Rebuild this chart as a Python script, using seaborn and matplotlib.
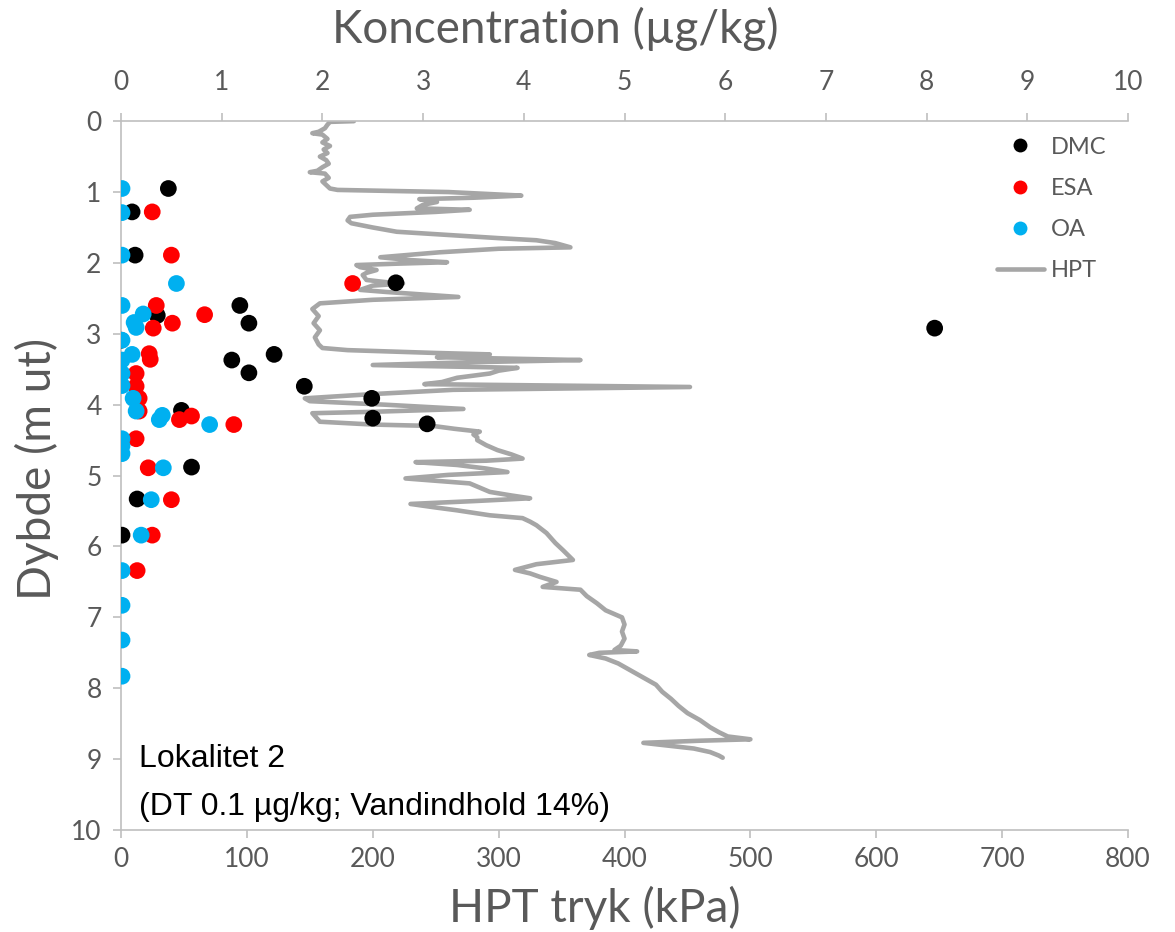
import matplotlib
matplotlib.use("Agg")
import matplotlib.pyplot as plt
from matplotlib.lines import Line2D
import seaborn as sns
import pandas as pd

# --- Sample concentrations (µg/kg) at depth (m) ---
dmc_depth = [0.95, 1.28, 1.89, 2.28, 2.60, 2.74, 2.85, 2.92, 3.09, 3.29, 3.37, 3.55, 3.74,
             3.91, 4.08, 4.19, 4.27, 4.88, 5.33, 5.84]
dmc_conc = [0.47, 0.11, 0.14, 2.73, 1.18, 0.36, 1.27, 8.08, 0.0, 1.52, 1.10, 1.27, 1.82,
            2.49, 0.60, 2.50, 3.04, 0.70, 0.16, 0.01]

esa_depth = [1.28, 1.89, 2.29, 2.60, 2.73, 2.85, 2.92, 3.28, 3.36, 3.56, 3.74, 3.91, 4.09,
             4.16, 4.21, 4.28, 4.48, 4.89, 5.34, 5.84, 6.34]
esa_conc = [0.31, 0.50, 2.30, 0.35, 0.83, 0.51, 0.32, 0.28, 0.29, 0.15, 0.15, 0.18, 0.18,
            0.70, 0.58, 1.12, 0.15, 0.27, 0.50, 0.31, 0.16]

oa_depth = [0.95, 1.29, 1.89, 2.29, 2.60, 2.72, 2.84, 2.91, 3.09, 3.29, 3.37, 3.56, 3.73,
            3.91, 4.09, 4.15, 4.21, 4.28, 4.48, 4.58, 4.69, 4.89, 5.34, 5.84, 6.34, 6.83,
            7.32, 7.83]
oa_conc = [0.01, 0.01, 0.01, 0.55, 0.01, 0.22, 0.13, 0.15, 0.01, 0.11, 0.01, 0.01, 0.01,
           0.12, 0.15, 0.41, 0.38, 0.88, 0.01, 0.01, 0.01, 0.42, 0.30, 0.20, 0.01, 0.01,
           0.01, 0.01]

# --- HPT pressure log (kPa) against depth (m) ---
hpt_depth = [0.00, 0.01, 0.05, 0.10, 0.15, 0.17, 0.19, 0.25, 0.30, 0.35, 0.40, 0.45, 0.50,
             0.55, 0.60, 0.65, 0.70, 0.72, 0.74, 0.80, 0.85, 0.90, 0.95, 0.97, 1.00, 1.05,
             1.08, 1.10, 1.14, 1.18, 1.23, 1.25, 1.28, 1.32, 1.35, 1.40, 1.44, 1.50, 1.56,
             1.61, 1.65, 1.68, 1.72, 1.78, 1.80, 1.85, 1.92, 1.96, 1.99, 2.01, 2.03, 2.06,
             2.10, 2.14, 2.17, 2.24, 2.27, 2.29, 2.32, 2.38, 2.41, 2.44, 2.48, 2.52, 2.57,
             2.65, 2.75, 2.85, 2.95, 3.05, 3.15, 3.20, 3.23, 3.27, 3.29, 3.33, 3.37, 3.40,
             3.44, 3.48, 3.52, 3.56, 3.62, 3.68, 3.71, 3.75, 3.79, 3.85, 3.91, 3.95, 4.00,
             4.06, 4.10, 4.12, 4.18, 4.24, 4.28, 4.30, 4.34, 4.38, 4.42, 4.46, 4.50, 4.57,
             4.64, 4.70, 4.76, 4.79, 4.81, 4.85, 4.90, 4.95, 4.99, 5.04, 5.08, 5.11, 5.17,
             5.23, 5.28, 5.32, 5.36, 5.40, 5.45, 5.49, 5.56, 5.60, 5.65, 5.70, 5.81, 5.95,
             6.05, 6.12, 6.19, 6.25, 6.33, 6.38, 6.43, 6.50, 6.57, 6.61, 6.70, 6.80, 6.90,
             7.00, 7.10, 7.20, 7.30, 7.40, 7.46, 7.48, 7.50, 7.53, 7.58, 7.65, 7.75, 7.85,
             7.95, 8.05, 8.15, 8.25, 8.35, 8.45, 8.55, 8.62, 8.68, 8.72, 8.74, 8.77, 8.80,
             8.85, 8.90, 8.95, 8.98]
hpt_kpa = [185, 166, 164, 162, 157, 152, 160, 164, 160, 166, 161, 164, 158,
           163, 165, 160, 156, 150, 162, 165, 160, 163, 166, 172, 260, 318,
           280, 237, 251, 240, 235, 277, 250, 200, 182, 180, 183, 200, 219,
           264, 300, 330, 345, 357, 300, 253, 206, 230, 259, 220, 187, 190,
           203, 195, 192, 195, 210, 224, 200, 190, 211, 235, 268, 200, 158,
           152, 157, 153, 158, 154, 157, 160, 180, 250, 293, 251, 365, 280,
           200, 315, 300, 293, 267, 255, 241, 452, 264, 200, 146, 150, 210,
           272, 200, 152, 155, 158, 200, 248, 265, 285, 280, 283, 283, 290,
           299, 310, 319, 290, 234, 267, 290, 307, 260, 226, 255, 277, 285,
           293, 310, 325, 280, 230, 250, 267, 293, 319, 325, 330, 338, 345,
           351, 355, 359, 330, 313, 325, 333, 346, 335, 365, 370, 378, 385,
           398, 400, 398, 400, 397, 392, 410, 380, 372, 385, 395, 405, 415,
           425, 430, 437, 443, 450, 460, 468, 475, 482, 500, 460, 415, 430,
           455, 468, 475, 478]

conc_ticks = list(range(0, 11))
kpa_ticks = list(range(0, 801, 100))
depth_ticks = list(range(0, 11))

series_names = ["DMC", "ESA", "OA"]
series_colors = {"DMC": "#000000", "ESA": "#ff0000", "OA": "#00b0f0"}
hpt_color = "#a6a6a6"
axis_grey = "#bfbfbf"
text_grey = "#595959"

samples = pd.concat([
    pd.DataFrame({"Dybde": dmc_depth, "Konc": dmc_conc, "Stof": "DMC"}),
    pd.DataFrame({"Dybde": esa_depth, "Konc": esa_conc, "Stof": "ESA"}),
    pd.DataFrame({"Dybde": oa_depth, "Konc": oa_conc, "Stof": "OA"}),
], ignore_index=True)
hpt = pd.DataFrame({"Dybde": hpt_depth, "kPa": hpt_kpa})

sns.set_theme(style="white")
plt.rcParams["font.family"] = ["Lato", "DejaVu Sans"]

fig, ax = plt.subplots(figsize=(11.75, 9.32), dpi=100)
fig.subplots_adjust(left=0.103, right=0.96, top=0.870, bottom=0.1094)

# HPT log on the bottom axis
sns.lineplot(data=hpt, x="kPa", y="Dybde", orient="y", estimator=None, sort=False,
             color=hpt_color, linewidth=3.3, ax=ax, legend=False)
ax.set_xlim(0, 800)
ax.set_ylim(10, 0)
ax.set_xticks(kpa_ticks)
ax.set_yticks(depth_ticks)
ax.set_xlabel("HPT tryk (kPa)", fontsize=33, color=text_grey)
ax.set_ylabel("Dybde (m ut)", fontsize=33, color=text_grey)
ax.xaxis.set_label_coords(0.471, -0.078)
ax.yaxis.set_label_coords(-0.062, 0.51)

# Concentrations on the top axis
ax2 = ax.twiny()
sns.scatterplot(data=samples, x="Konc", y="Dybde", hue="Stof", hue_order=series_names,
                palette=series_colors, s=145, linewidth=0, ax=ax2, legend=False, zorder=3)
ax2.set_xlim(0, 10)
ax2.set_xticks(conc_ticks)
ax2.set_xlabel("Koncentration (µg/kg)", fontsize=33, color=text_grey)
ax2.xaxis.set_label_coords(0.431, 1.110)

for a in (ax, ax2):
    for side in ("top", "bottom", "left", "right"):
        a.spines[side].set_visible(False)
    a.tick_params(colors=axis_grey, labelcolor=text_grey, labelsize=19, length=6, width=1.2)
ax.spines["bottom"].set_visible(True)
ax.spines["left"].set_visible(True)
ax.spines["bottom"].set_color(axis_grey)
ax.spines["left"].set_color(axis_grey)
ax.spines["bottom"].set_linewidth(1.2)
ax.spines["left"].set_linewidth(1.2)
ax2.spines["top"].set_visible(True)
ax2.spines["top"].set_color(axis_grey)
ax2.spines["top"].set_linewidth(1.2)
ax.tick_params(axis="x", bottom=True, top=False, pad=6)
ax.tick_params(axis="y", left=True, pad=8)
ax2.tick_params(axis="x", top=True, bottom=False, pad=13)

ax.text(0.018, 0.10, "Lokalitet 2", transform=ax.transAxes, fontsize=23,
        family=["Liberation Sans", "DejaVu Sans"], color="black", va="center")
ax.text(0.018, 0.032, "(DT 0.1 µg/kg; Vandindhold 14%)", transform=ax.transAxes,
        fontsize=23, family=["Liberation Sans", "DejaVu Sans"], color="black", va="center")

handles = [Line2D([], [], marker="o", linestyle="none", markersize=10,
                  markerfacecolor=series_colors[n], markeredgewidth=0, label=n)
           for n in series_names]
handles.append(Line2D([], [], color=hpt_color, linewidth=3.3, label="HPT"))
leg = ax2.legend(handles=handles, loc="upper right", bbox_to_anchor=(1.0, 1.008),
                 frameon=False, fontsize=17, labelspacing=0.85, handlelength=2.0,
                 handletextpad=0.3)
for t in leg.get_texts():
    t.set_color(text_grey)

fig.savefig("out.png", dpi=100)
